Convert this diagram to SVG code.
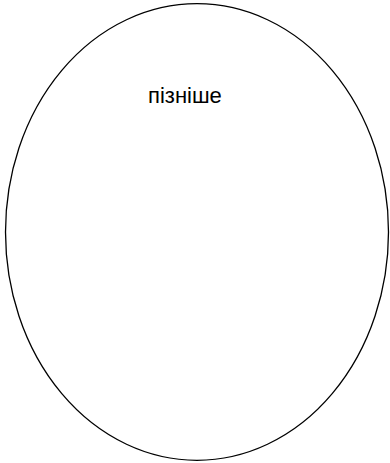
<svg xmlns="http://www.w3.org/2000/svg" width="390" height="463" viewBox="0 0 390 463">
<style>
.shape{fill:#ffffff;stroke:#000000;stroke-width:1.3}
.lbl{font-family:"Liberation Sans",Arial,sans-serif;font-size:22px;fill:#000000}
</style>
<rect width="390" height="463" fill="#ffffff"/>
<g id="node-ellipse">
<ellipse class="shape" cx="197" cy="232" rx="191.5" ry="228.3"/>
<text class="lbl" x="148" y="103">пізніше</text>
</g>
<g id="connectors"/>
</svg>
